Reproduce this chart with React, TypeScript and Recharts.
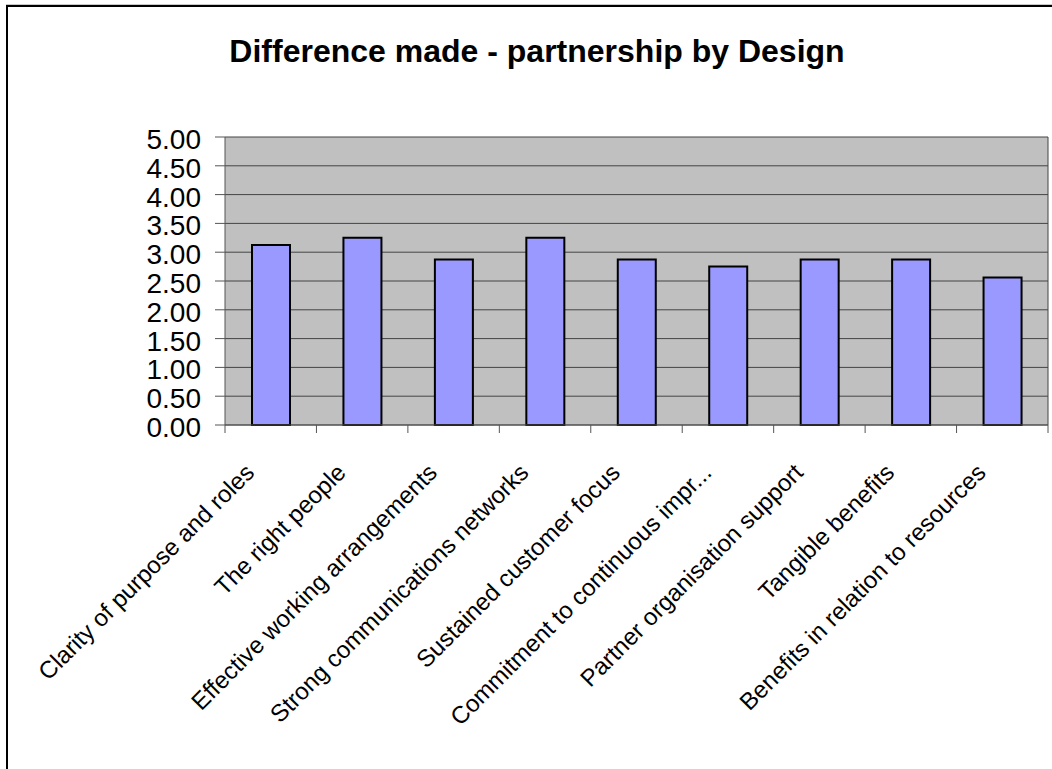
import { BarChart, Bar, XAxis, YAxis, CartesianGrid } from 'recharts';

const categories = [
  'Clarity of purpose and roles',
  'The right people',
  'Effective working arrangements',
  'Strong communications networks',
  'Sustained customer focus',
  'Commitment to continuous impr...',
  'Partner organisation support',
  'Tangible benefits',
  'Benefits in relation to resources',
];

const scores = [3.125, 3.25, 2.875, 3.25, 2.875, 2.75, 2.875, 2.875, 2.5625];

const yTicks = [0, 0.5, 1, 1.5, 2, 2.5, 3, 3.5, 4, 4.5, 5];

const data = categories.map((name, i) => ({ name, score: scores[i] }));

const FONT = '"Liberation Sans", Arial, sans-serif';

// plot area bounds (px)
const PLOT_LEFT = 225;
const PLOT_RIGHT = 1048;
const BAND = (PLOT_RIGHT - PLOT_LEFT) / categories.length;

const CategoryTick = (props: any) => {
  const { x, y, payload, index } = props;
  const left = x - BAND / 2;
  const tx = x - 15;
  const ty = y + 49;
  return (
    <g>
      <line x1={left} x2={left} y1={y} y2={y + 8} stroke="#555" />
      {index === categories.length - 1 && (
        <line x1={x + BAND / 2} x2={x + BAND / 2} y1={y} y2={y + 8} stroke="#555" />
      )}
      <text
        x={tx}
        y={ty}
        textAnchor="end"
        transform={`rotate(-45, ${tx}, ${ty})`}
        fontSize={24}
        fontFamily={FONT}
        fill="#000"
      >
        {payload.value}
      </text>
    </g>
  );
};

export default function App() {
  return (
    <div
      style={{
        position: 'absolute',
        left: 0,
        top: 0,
        width: 1052,
        height: 769,
        overflow: 'hidden',
        background: '#fff',
      }}
    >
      {/* outer chart frame */}
      <div
        style={{
          position: 'absolute',
          left: 6,
          top: 4,
          width: 1200,
          height: 1,
          background: '#c8c8c8',
        }}
      />
      <div
        style={{
          position: 'absolute',
          left: 6,
          top: 5,
          width: 1200,
          height: 900,
          border: '2px solid #000',
        }}
      />
      <div
        style={{
          position: 'absolute',
          left: 0,
          top: 35,
          width: 1074,
          textAlign: 'center',
          fontFamily: FONT,
          fontWeight: 'bold',
          fontSize: 32,
          lineHeight: '32px',
        }}
      >
        Difference made - partnership by Design
      </div>
      <div style={{ position: 'absolute', left: 0, top: 0 }}>
        <BarChart
          width={1052}
          height={769}
          data={data}
          margin={{ top: 137, right: 4, left: 165, bottom: 44 }}
          barSize={38}
        >
          <CartesianGrid
            fill="#C0C0C0"
            stroke="#444"
            vertical={true}
            verticalPoints={[PLOT_RIGHT]}
          />
          <XAxis
            dataKey="name"
            interval={0}
            height={300}
            tickSize={0}
            tickMargin={0}
            tickLine={false}
            axisLine={{ stroke: '#555' }}
            tick={<CategoryTick />}
          />
          <YAxis
            width={60}
            domain={[0, 5]}
            ticks={yTicks}
            interval={0}
            tickSize={10}
            tickMargin={14}
            tickLine={{ stroke: '#555' }}
            axisLine={{ stroke: '#555' }}
            tickFormatter={(v: number) => v.toFixed(2)}
            tick={{ fontSize: 28, fontFamily: FONT, fill: '#000', dy: 2 }}
          />
          <Bar
            dataKey="score"
            fill="#9999FF"
            stroke="#000"
            strokeWidth={2}
            isAnimationActive={false}
          />
        </BarChart>
      </div>
    </div>
  );
}
